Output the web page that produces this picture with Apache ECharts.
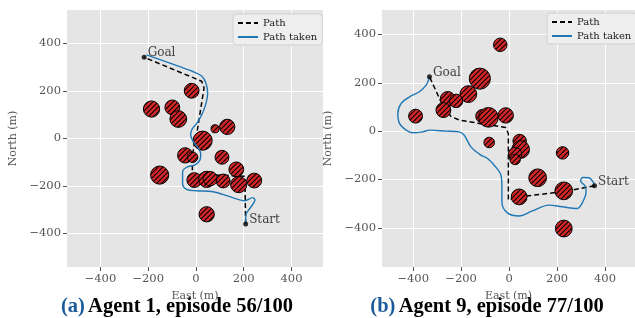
<!DOCTYPE html>
<html>
<head>
<meta charset="utf-8">
<script src="https://cdn.jsdelivr.net/npm/echarts@6/dist/echarts.min.js"></script>
<style>
  html, body { margin: 0; padding: 0; background: #fff; }
  #chart { width: 635px; height: 318px; }
</style>
</head>
<body>
<div id="chart"></div>
<script>
// obstacles: [east, north, radius] in metres
const obstacles1 = [
  [-18, 200, 31], [-186, 123, 34], [-99, 130, 31], [-74, 81, 35], [80, 40, 17],
  [131, 48, 32], [28, -10, 40], [-45, -72, 32], [-14, -80, 22], [109, -80, 29],
  [169, -131, 31], [-152, -155, 38], [-7, -176, 31], [45, -173, 34], [60, -170, 30],
  [114, -180, 29], [179, -195, 34], [244, -178, 31], [45, -320, 32]
];
const path1 = [
  [208, -361], [205, -160], [-15, -150], [-15, -84], [-10, -40], [5, 30],
  [34, 212], [24, 240], [-217, 341]
];
const taken1 = [
  [208, -361], [209, -323], [229, -291], [247, -260], [237, -250], [205, -263],
  [142, -246], [72, -225], [3, -221], [-39, -215], [-56, -190], [-56, -141],
  [-39, -122], [-4, -112], [17, -91], [20, -66], [10, -42], [-11, -14], [-22, 14],
  [-18, 35], [3, 63], [24, 98], [42, 147], [49, 189], [42, 232], [24, 262],
  [-11, 280], [-109, 316], [-207, 351]
];
const start1 = [208, -361];
const goal1 = [-217, 341];

const obstacles2 = [
  [-37, 357, 28], [-390, 62, 29], [-122, 217, 44], [-170, 153, 35], [-256, 133, 31],
  [-221, 125, 28], [-274, 87, 31], [-111, 62, 28], [-86, 57, 41], [-14, 65, 32],
  [-83, -47, 22], [44, -41, 28], [48, -76, 37], [25, -95, 28], [25, -117, 22],
  [223, -90, 26], [119, -193, 37], [228, -247, 37], [42, -272, 33], [228, -403, 35]
];
const path2 = [
  [356, -226], [228, -250], [42, -272], [-3, -285], [-3, -10], [-15, 15],
  [-125, 32], [-208, 46], [-242, 60], [-284, 121], [-332, 225]
];
const taken2 = [
  [356, -226], [353, -214], [332, -193], [307, -192], [298, -206], [316, -226],
  [321, -251], [307, -293], [284, -320], [221, -313], [166, -306], [97, -330],
  [42, -351], [-7, -338], [-30, -293], [-30, -231], [-34, -182], [-62, -141],
  [-90, -113], [-118, -99], [-159, -65], [-187, -17], [-208, -3], [-263, 0],
  [-332, 4], [-360, -3], [-402, -7], [-429, 4], [-457, 32], [-464, 73],
  [-450, 115], [-415, 142], [-374, 163], [-346, 190], [-332, 222]
];
const start2 = [356, -226];
const goal2 = [-332, 225];

const tickValues = [-400, -200, 0, 200, 400];

const captions = [
  { tag: "(a)", text: "Agent 1, episode 56/100" },
  { tag: "(b)", text: "Agent 9, episode 77/100" }
];

// red fill with black "////" hatching
const tile = document.createElement("canvas");
tile.width = 5;
tile.height = 5;
const g = tile.getContext("2d");
g.fillStyle = "#d62728";
g.fillRect(0, 0, 5, 5);
g.strokeStyle = "#000";
g.lineWidth = 1.1;
g.beginPath();
g.moveTo(0, 5); g.lineTo(5, 0);
g.moveTo(-1, 1); g.lineTo(1, -1);
g.moveTo(4, 6); g.lineTo(6, 4);
g.stroke();
const hatch = { image: tile, repeat: "repeat" };

const serif = "DejaVu Serif";
const minus = (v) => String(v).replace("-", "\u2212");

function axis(i, min, max, name, gap) {
  return {
    type: "value", gridIndex: i, min: min, max: max,
    name: name, nameLocation: "middle", nameGap: gap,
    nameTextStyle: { fontFamily: serif, fontSize: 11, color: "#555" },
    axisLine: { show: false, onZero: false },
    axisTick: { show: true, length: 4, customValues: tickValues, lineStyle: { color: "#555" } },
    axisLabel: { fontFamily: serif, fontSize: 11.5, color: "#555", margin: 6,
      customValues: tickValues, formatter: minus },
    splitLine: { show: true, lineStyle: { color: "#fff", width: 1 } }
  };
}

function panelSeries(i, obstacles, path, taken, start, goal) {
  const ptLabel = (txt) => ({
    show: true, formatter: txt, position: "right", distance: 1, offset: [0, -4],
    fontFamily: serif, fontSize: 12, color: "#111"
  });
  return [
    {
      name: "Path", type: "line", xAxisIndex: i, yAxisIndex: i, data: path,
      symbol: "none", z: 2,
      itemStyle: { color: "#000" },
      lineStyle: { color: "#000", width: 1.5, type: [5, 3] }
    },
    {
      type: "custom", xAxisIndex: i, yAxisIndex: i, data: obstacles, z: 3,
      encode: { x: 0, y: 1 },
      renderItem: (params, api) => {
        const c = api.coord([api.value(0), api.value(1)]);
        const s = api.size([api.value(2), api.value(2)]);
        return {
          type: "circle",
          shape: { cx: c[0], cy: c[1], r: s[0] },
          style: { fill: hatch, stroke: "#000", lineWidth: 1 }
        };
      }
    },
    {
      name: "Path taken", type: "line", xAxisIndex: i, yAxisIndex: i, data: taken,
      symbol: "none", smooth: 0.35, z: 4,
      itemStyle: { color: "#1f77b4" },
      lineStyle: { color: "#1f77b4", width: 1.4 }
    },
    {
      type: "scatter", xAxisIndex: i, yAxisIndex: i, z: 5, symbolSize: 5,
      itemStyle: { color: "#000" },
      data: [
        { value: start, label: ptLabel("Start") },
        { value: goal, label: ptLabel("Goal") }
      ]
    }
  ];
}

function legend(left, top) {
  return {
    left: left, top: top, orient: "vertical", data: ["Path", "Path taken"],
    itemWidth: 20, itemHeight: 8, itemGap: 4,
    padding: [4, 5, 3, 4],
    backgroundColor: "rgba(238,238,238,0.9)", borderColor: "#cfcfcf",
    borderWidth: 1, borderRadius: 3,
    itemStyle: { color: "rgba(0,0,0,0)", borderWidth: 0 },
    textStyle: { fontFamily: serif, fontSize: 10, color: "#222" }
  };
}

function caption(x, c) {
  const font = { fontFamily: "Liberation Serif", fontWeight: "bold", fontSize: 20.5 };
  return {
    type: "text", x: x, y: 307,
    style: {
      text: "{a|" + c.tag + "} {b|" + c.text + "}",
      textAlign: "center", textVerticalAlign: "middle",
      align: "center", verticalAlign: "middle",
      rich: {
        a: Object.assign({ fill: "#1c5b9a", color: "#1c5b9a" }, font),
        b: Object.assign({ fill: "#000", color: "#000" }, font)
      }
    }
  };
}

const chart = echarts.init(document.getElementById("chart"), null, { renderer: "canvas" });
chart.setOption({
  animation: false,
  backgroundColor: "#fff",
  grid: [
    { left: 67, top: 10, width: 256, height: 257, show: true, backgroundColor: "#e5e5e5", borderWidth: 0 },
    { left: 382, top: 10, width: 254, height: 257, show: true, backgroundColor: "#e5e5e5", borderWidth: 0 }
  ],
  xAxis: [axis(0, -540, 532, "East (m)", 24), axis(1, -530, 525, "East (m)", 24)],
  yAxis: [axis(0, -542, 540, "North (m)", 48), axis(1, -562, 501, "North (m)", 48)],
  legend: [legend(233, 14), legend(547, 13)],
  series: [].concat(
    panelSeries(0, obstacles1, path1, taken1, start1, goal1),
    panelSeries(1, obstacles2, path2, taken2, start2, goal2)
  ),
  graphic: [caption(177, captions[0]), caption(487, captions[1])]
});

window.addEventListener("resize", () => {
  if (chart) {
    chart.resize();
  }
});
</script>
</body>
</html>
